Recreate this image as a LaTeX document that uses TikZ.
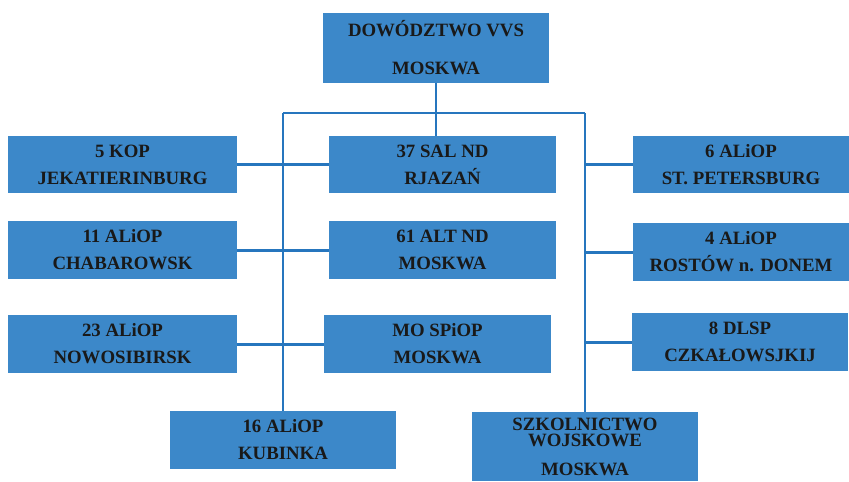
\documentclass[tikz,border=0pt]{standalone}
\usepackage{fontspec}
\setmainfont{Liberation Serif}
\usetikzlibrary{positioning}
\definecolor{vvsblue}{RGB}{60,136,201}
\definecolor{linkblue}{RGB}{38,118,190}
\tikzset{
every picture/.style={
line width=1.7pt
}}
\newcommand{\vvsfont}{\fontsize{10.7}{15.4}\selectfont\bfseries}

\begin{document}
\begin{tikzpicture}[x=0.02cm, y=-0.02cm,
unit/.style = {rectangle, fill=vvsblue, inner sep=0pt, outer sep=0pt, align=center, text=black!90,
  minimum width=4.56cm, minimum height=1.16cm, font=\vvsfont},
link/.style = {draw=linkblue, line width=1.7pt}]

\useasboundingbox (0,0) rectangle (849,481);

\node[unit, minimum width=4.52cm, minimum height=1.40cm] (vvs) at (436,48) {DOW\'ODZTWO VVS\\[6.2pt]MOSKWA};

% left column
\node[unit, minimum width=4.58cm, minimum height=1.14cm] (kop) at (122.5,164.5) {5 KOP\\JEKATIERINBURG};
\node[unit, minimum width=4.58cm] (cha) at (122.5,250) {11 ALiOP\\CHABAROWSK};
\node[unit, minimum width=4.58cm] (now) at (122.5,344) {23 ALiOP\\NOWOSIBIRSK};

% middle column
\node[unit, minimum width=4.54cm, minimum height=1.14cm] (sal) at (442.5,164.5) {37 SAL ND\\RJAZA\'N};
\node[unit, minimum width=4.54cm] (alt) at (442.5,250) {61 ALT ND\\MOSKWA};
\node[unit, minimum width=4.54cm] (mos) at (437.5,344) {MO SPiOP\\MOSKWA};

% right column
\node[unit, minimum width=4.32cm, minimum height=1.14cm] (pet) at (741,164.5) {6 ALiOP\\ST. PETERSBURG};
\node[unit, minimum width=4.32cm] (ros) at (741,252) {4 ALiOP\\ROST\'OW n. DONEM};
\node[unit, minimum width=4.32cm] (dls) at (740,342) {8 DLSP\\CZKA\L OWSJKIJ};

% bottom
\node[unit, minimum width=4.52cm] (kub) at (283,440) {16 ALiOP\\KUBINKA};
\node[unit, minimum width=4.54cm, minimum height=1.38cm] (szk) at (585,446.5) {SZKOLNICTWO\\[-6.2pt]WOJSKOWE\\[1pt]MOSKWA};

\coordinate (lbus) at (283,113);
\coordinate (rbus) at (585,113);

\draw[link] (vvs.south) -- (vvs.south |- sal.north);
\draw[link] (lbus) -- (rbus);
\draw[link] (lbus) -- (kub.north);
\draw[link] (rbus) -- (szk.north);

\draw[link] (kop) -- (sal);
\draw[link] (cha) -- (alt);
\draw[link] (now) -- (mos);

\draw[link] (rbus |- pet.west) -- (pet.west);
\draw[link] (rbus |- ros.west) -- (ros.west);
\draw[link] (rbus |- dls.west) -- (dls.west);
\end{tikzpicture}
\end{document}
